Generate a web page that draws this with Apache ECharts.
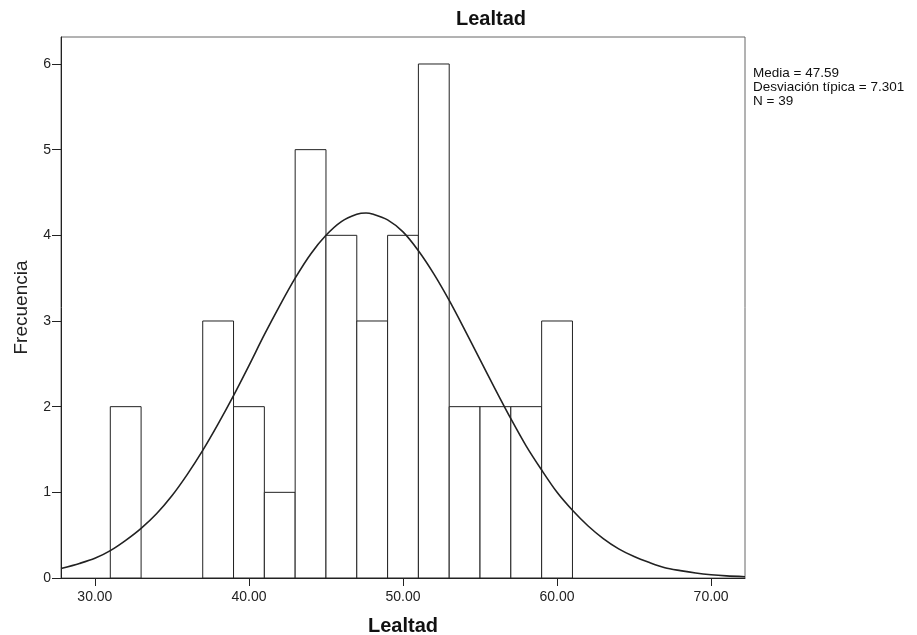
<!DOCTYPE html>
<html>
<head>
<meta charset="utf-8">
<script src="https://cdn.jsdelivr.net/npm/echarts@6/dist/echarts.min.js"></script>
<style>
html,body{margin:0;padding:0;background:#fff;}
#chart{width:917px;height:635px;}
</style>
</head>
<body>
<div id="chart"></div>
<script>
// Histogram bins (start of each bin, width 2) and frequencies
var binStarts = [31, 37, 39, 41, 43, 45, 47, 49, 51, 53, 55, 57, 59];
var binWidth = 2;
var counts = [2, 3, 2, 1, 5, 4, 3, 4, 6, 2, 2, 2, 3];
// Normal curve
var curveX = [27.8, 29, 30, 31, 32, 33, 34, 35, 36, 37, 38, 39, 40, 41, 42, 43, 44, 45, 46, 47, 47.6, 48, 49, 50,
              51, 52, 53, 54, 55, 56, 57, 58, 59, 60, 61, 62, 63, 64, 65, 66, 67, 68, 69, 70, 71, 72.2];
var curveY = [0.11, 0.17, 0.23, 0.32, 0.44, 0.58, 0.75, 0.96, 1.21, 1.49, 1.80, 2.13, 2.48, 2.84, 3.18, 3.50, 3.78, 4.00, 4.16, 4.245, 4.26, 4.25, 4.18, 4.04,
              3.82, 3.55, 3.24, 2.90, 2.55, 2.20, 1.86, 1.54, 1.26, 1.00, 0.79, 0.61, 0.46, 0.34, 0.25, 0.18, 0.12, 0.086, 0.058, 0.038, 0.025, 0.015];
var xTicks = [30, 40, 50, 60, 70];
var yTicks = [0, 1, 2, 3, 4, 5, 6];
var statsLines = ['Media = 47.59', 'Desviación típica = 7.301', 'N = 39'];
var titleText = 'Lealtad';
var xName = 'Lealtad';
var yName = 'Frecuencia';

var FONT = 'Arial, "Liberation Sans", sans-serif';
var chart = echarts.init(document.getElementById('chart'));

var barData = binStarts.map(function (s, i) { return [s, s + binWidth, counts[i]]; });
var curveData = curveX.map(function (x, i) { return [x, curveY[i]]; });

chart.setOption({
  animation: false,
  backgroundColor: '#fff',
  grid: {
    left: 61, right: 172, top: 37, bottom: 57,
    containLabel: false, outerBoundsMode: 'none',
    show: true, borderColor: '#666', borderWidth: 1, backgroundColor: 'transparent'
  },
  xAxis: {
    type: 'value', min: 27.8, max: 72.2,
    name: xName, nameLocation: 'middle', nameGap: 38,
    nameTextStyle: { fontFamily: FONT, fontSize: 20, fontWeight: 'bold', color: '#111' },
    axisLine: { show: true, onZero: false, lineStyle: { color: '#222', width: 1 } },
    axisTick: { show: true, length: 8, customValues: xTicks, lineStyle: { color: '#222' } },
    axisLabel: { customValues: xTicks, margin: 12, fontFamily: FONT, fontSize: 14, color: '#222',
      formatter: function (v) { return v.toFixed(2); } },
    splitLine: { show: false }
  },
  yAxis: {
    type: 'value', min: 0, max: 6.315,
    name: yName, nameLocation: 'middle', nameGap: 30,
    nameTextStyle: { fontFamily: FONT, fontSize: 19, color: '#222' },
    axisLine: { show: true, lineStyle: { color: '#222', width: 1 } },
    axisTick: { show: true, length: 9, customValues: yTicks, lineStyle: { color: '#222' } },
    axisLabel: { customValues: yTicks, margin: 10, fontFamily: FONT, fontSize: 14, color: '#222' },
    splitLine: { show: false }
  },
  series: [
    {
      type: 'custom',
      data: barData,
      z: 2,
      renderItem: function (params, api) {
        var p0 = api.coord([api.value(0), api.value(2)]);
        var p1 = api.coord([api.value(1), 0]);
        return {
          type: 'rect',
          shape: { x: p0[0], y: p0[1], width: p1[0] - p0[0], height: p1[1] - p0[1] },
          style: { fill: '#fff', stroke: '#222', lineWidth: 1 }
        };
      }
    },
    {
      type: 'line',
      data: curveData,
      smooth: 0.3,
      showSymbol: false,
      symbol: 'none',
      z: 5,
      lineStyle: { color: '#222', width: 1.6 }
    }
  ],
  graphic: [
    {
      type: 'text', left: 492 - 36, top: 9,
      style: { text: titleText, font: 'bold 20px ' + FONT, fill: '#111' }
    },
    {
      type: 'text', left: 753, top: 66,
      style: { text: statsLines.join('\n'), font: '13.5px ' + FONT, lineHeight: 14, fill: '#111' }
    }
  ]
});
</script>
</body>
</html>
